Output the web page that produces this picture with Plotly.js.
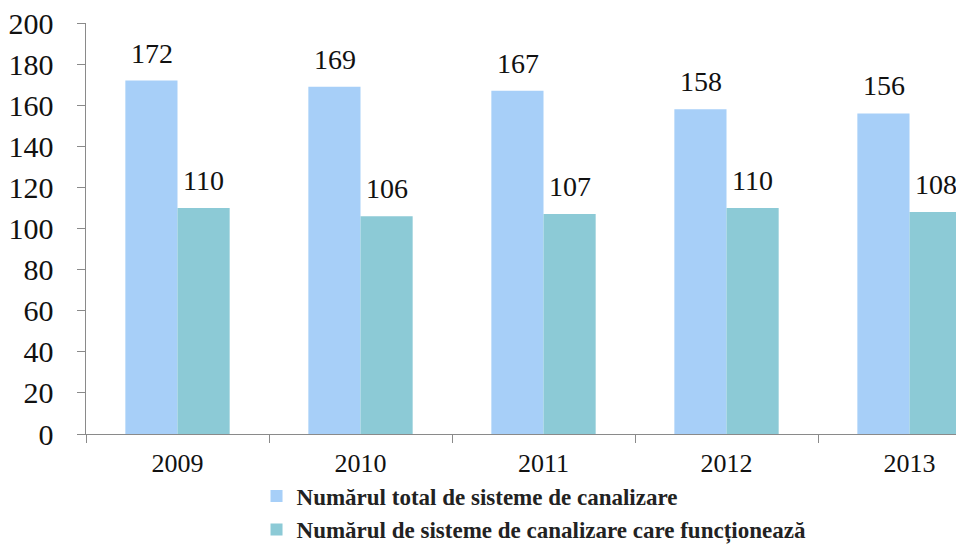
<!DOCTYPE html>
<html><head><meta charset="utf-8">
<script src="https://cdn.plot.ly/plotly-3.0.1.min.js"></script>
<style>html,body{margin:0;padding:0;background:#fff}</style>
</head><body><div id="chart" style="width:956px;height:551px"></div>
<script>
const years = ['2009','2010','2011','2012','2013'];
const totalSystems = [172,169,167,158,156];
const workingSystems = [110,106,107,110,108];
const seriesNames = ['Numărul total de sisteme de canalizare','Numărul de sisteme de canalizare care funcționează'];
const yTicks = [0,20,40,60,80,100,120,140,160,180,200];

const serif = 'Liberation Serif';
const labelFont = {family:serif,size:28,color:'#111'};
const legendFont = {family:serif, size:23, color:'#222', weight:'bold'};
const data = [
  {type:'bar', x:years, y:totalSystems, name:seriesNames[0], legend:'legend',
   marker:{color:'#a7cff8'}},
  {type:'bar', x:years, y:workingSystems, name:seriesNames[1], legend:'legend2',
   marker:{color:'#8ccad6'}}
];
const annotations = [];
years.forEach((yr,i)=>{
  annotations.push({x:i, y:totalSystems[i], xref:'x', yref:'y', text:String(totalSystems[i]),
    showarrow:false, xshift:-26, yshift:10, yanchor:'bottom', font:labelFont});
  annotations.push({x:i, y:workingSystems[i], xref:'x', yref:'y', text:String(workingSystems[i]),
    showarrow:false, xshift:26, yshift:10, yanchor:'bottom', font:labelFont});
});
const layout = {
  width:956, height:551,
  margin:{l:86, r:0, t:23, b:0},
  paper_bgcolor:'#fff', plot_bgcolor:'#fff',
  barmode:'group', bargap:0.43, bargroupgap:0,
  showlegend:true,
  annotations:annotations,
  legend:{x:0.196, y:0.104, xanchor:'left', yanchor:'middle', orientation:'v',
    font:legendFont, itemwidth:30, bgcolor:'rgba(0,0,0,0)'},
  legend2:{x:0.196, y:0, xanchor:'left', yanchor:'bottom', orientation:'v',
    font:legendFont, itemwidth:30, bgcolor:'rgba(0,0,0,0)'},
  xaxis:{type:'category', range:[-0.5,4.254], showline:true, linecolor:'#8a8a8a', linewidth:1.5,
    ticks:'outside', tickson:'boundaries', ticklen:8, tickcolor:'#8a8a8a', automargin:false,
    tickfont:{family:serif,size:26,color:'#111'}, ticklabelstandoff:5, showgrid:false, zeroline:false},
  yaxis:{range:[0,200], domain:[0.2216,1], tickvals:yTicks, showline:true, linecolor:'#8a8a8a', linewidth:1.5,
    ticks:'outside', ticklen:8, tickcolor:'#8a8a8a', ticklabelstandoff:17, automargin:false,
    tickfont:{family:serif,size:30,color:'#111'}, showgrid:false, zeroline:false}
};
Plotly.newPlot('chart', data, layout, {displayModeBar:false, staticPlot:true});
</script></body></html>
